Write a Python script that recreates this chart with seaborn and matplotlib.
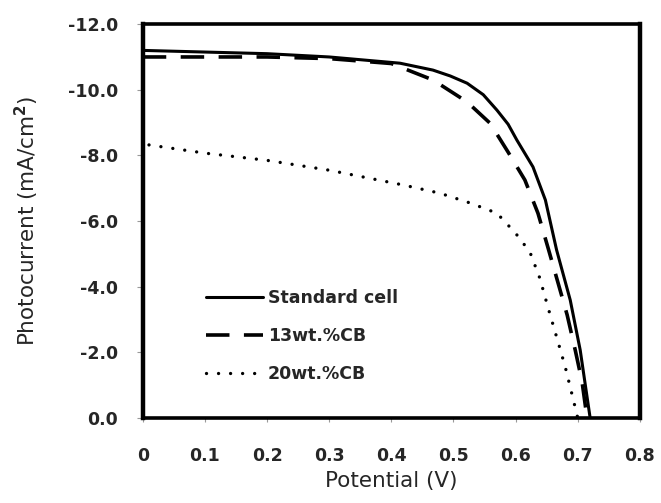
import pandas as pd
import seaborn as sns
import matplotlib.pyplot as plt
from matplotlib.ticker import FormatStrFormatter

# Data (current in mA/cm2, potential in V)
v_std = [0.0, 0.1, 0.2, 0.3, 0.414, 0.467, 0.495, 0.522, 0.548, 0.570, 0.588, 0.602, 0.628,
         0.648, 0.666, 0.688, 0.704, 0.72]
i_std = [-11.2, -11.15, -11.1, -11.0, -10.81, -10.6, -10.42, -10.2, -9.85, -9.38, -8.95, -8.47, -7.65,
         -6.64, -5.12, -3.59, -2.07, 0.0]

v_13 = [0.0, 0.1, 0.2, 0.3, 0.4, 0.467, 0.522, 0.559, 0.588, 0.615, 0.636, 0.652, 0.668, 0.683,
        0.696, 0.707, 0.715]
i_13 = [-11.0, -11.0, -11.0, -10.95, -10.8, -10.3, -9.63, -8.98, -8.1, -7.25, -6.24, -5.2, -4.14, -3.14,
        -2.07, -1.1, 0.0]

v_20 = [0.01, 0.1, 0.2, 0.3, 0.419, 0.478, 0.527, 0.570, 0.600, 0.623, 0.639, 0.652, 0.666, 0.680,
        0.693, 0.700]
i_20 = [-8.32, -8.07, -7.85, -7.55, -7.1, -6.85, -6.55, -6.24, -5.63, -5.06, -4.26, -3.38, -2.47, -1.55,
        -0.55, 0.0]

labels = ["Standard cell", "13wt.%CB", "20wt.%CB"]
x_ticks = [0, 0.1, 0.2, 0.3, 0.4, 0.5, 0.6, 0.7, 0.8]
x_ticklabels = ["0", "0.1", "0.2", "0.3", "0.4", "0.5", "0.6", "0.7", "0.8"]
y_ticks = [0, -2, -4, -6, -8, -10, -12]

sns.set_style("white")
plt.rcParams['font.family'] = ['DejaVu Sans']
plt.rcParams['font.weight'] = 'bold'

fig, ax = plt.subplots(figsize=(6.61, 5.03), dpi=100)
fig.subplots_adjust(left=0.216, right=0.968, bottom=0.169, top=0.952)

df_std = pd.DataFrame({'V': v_std, 'I': i_std})
df_13 = pd.DataFrame({'V': v_13, 'I': i_13})
df_20 = pd.DataFrame({'V': v_20, 'I': i_20})

sns.lineplot(data=df_std, x='V', y='I', ax=ax, color='black', lw=2.2,
             label=labels[0], sort=False)
sns.lineplot(data=df_13, x='V', y='I', ax=ax, color='black', lw=2.6,
             label=labels[1], sort=False)
ax.lines[-1].set_dashes([6.5, 4])
sns.lineplot(data=df_20, x='V', y='I', ax=ax, color='black', lw=2.4,
             label=labels[2], sort=False)
ax.lines[-1].set_dashes([0.01, 3.6])
ax.lines[-1].set_dash_capstyle('round')

ax.set_xlim(0, 0.8)
ax.set_ylim(0, -12)
ax.set_xticks(x_ticks)
ax.set_xticklabels(x_ticklabels)
ax.set_yticks(y_ticks)
ax.yaxis.set_major_formatter(FormatStrFormatter('%.1f'))

for side in ['left', 'right']:
    ax.spines[side].set_linewidth(3.2)
for side in ['top', 'bottom']:
    ax.spines[side].set_linewidth(2.6)
for s in ax.spines.values():
    s.set_color('black')

ax.tick_params(axis='x', direction='out', length=3, width=0.8, color='#999999',
               pad=18, labelsize=12.5, bottom=True)
ax.tick_params(axis='y', direction='out', length=4, width=0.8, color='#999999',
               pad=14, labelsize=12.5, left=True)

ax.set_xlabel('Potential (V)', fontsize=15.5, fontweight='normal', labelpad=4)
ax.set_ylabel('Photocurrent (mA/cm$^2$)', fontsize=15.5, fontweight='normal',
              labelpad=19)

leg = ax.legend(loc='lower left', bbox_to_anchor=(0.095, 0.05), frameon=False,
                prop={'size': 12.5, 'weight': 'bold'}, handlelength=3.3,
                handletextpad=0.3, labelspacing=1.15)

fig.savefig('out.png', dpi=100)
